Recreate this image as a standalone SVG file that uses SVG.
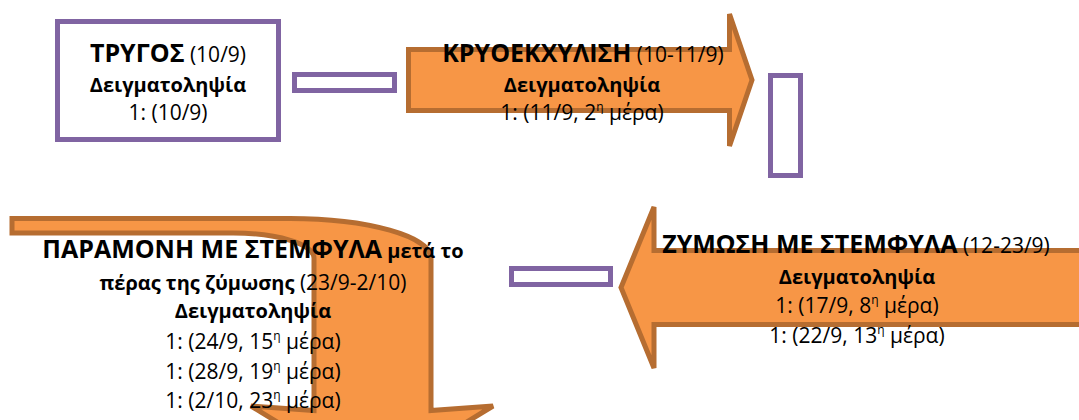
<svg xmlns="http://www.w3.org/2000/svg" width="1079" height="420" viewBox="0 0 1079 420">
<style>
.link{fill:#fff;stroke:#8064A2;stroke-width:5}
.box{fill:#fff;stroke:#8064A2;stroke-width:5}
.arr{fill:#F79646;stroke:#B66D31;stroke-width:5;stroke-linejoin:miter}
text{font-family:"Open Sans","Noto Sans",sans-serif;font-size:21px;fill:#000;text-anchor:middle}
.b{font-weight:bold;font-size:20px}
.big{font-weight:bold;font-size:25px}
.sup{font-size:12px}
</style>
<g id="connectors">
<rect class="link" x="294.5" y="74.5" width="100" height="16"/>
<rect class="link" x="770.5" y="75.5" width="30" height="100"/>
<rect class="link" x="511.5" y="268.5" width="99" height="16"/>
</g>
<g id="node-trygos">
<rect class="box" x="57.5" y="21.5" width="221" height="118"/>
<text x="168" y="62"><tspan class="big">ΤΡΥΓΟΣ</tspan> (10/9)</text>
<text x="168" y="92" class="b">Δειγματοληψία</text>
<text x="168" y="120">1: (10/9)</text>
</g>
<g id="node-kryoekxylisi">
<path class="arr" d="M408.5,49.5 H729.5 V14 L752,80 L729.5,146 V110.5 H408.5 Z"/>
<text x="583" y="62"><tspan class="big">ΚΡΥΟΕΚΧΥΛΙΣΗ</tspan> (10-11/9)</text>
<text x="582" y="92" class="b">Δειγματοληψία</text>
<text x="582" y="120">1: (11/9, 2<tspan class="sup" dy="-9">η</tspan><tspan dy="9"> μέρα)</tspan></text>
</g>
<g id="node-zymosi">
<path class="arr" d="M1085,250.5 H654 V207 L621,287.5 L654,368 V324.5 H1085 Z"/>
<text x="856" y="253"><tspan class="big">ΖΥΜΩΣΗ ΜΕ ΣΤΕΜΦΥΛΑ</tspan> (12-23/9)</text>
<text x="857" y="284" class="b">Δειγματοληψία</text>
<text x="857" y="313">1: (17/9, 8<tspan class="sup" dy="-9">η</tspan><tspan dy="9"> μέρα)</tspan></text>
<text x="857" y="343">1: (22/9, 13<tspan class="sup" dy="-9">η</tspan><tspan dy="9"> μέρα)</tspan></text>
</g>
<g id="node-paramoni">
<path class="arr" d="M12,218.5 H290 A141 40 0 0 1 431,258.5 V410.5 L493,406 L372,480 L251,406 L314,410.5 V258 A81 25 0 0 0 233,233 H12 Z"/>
<text x="253" y="258"><tspan class="big">ΠΑΡΑΜΟΝΗ ΜΕ ΣΤΕΜΦΥΛΑ</tspan><tspan class="b"> μετά το</tspan></text>
<text x="253" y="290"><tspan class="b">πέρας της ζύμωσης</tspan> (23/9-2/10)</text>
<text x="253" y="318" class="b">Δειγματοληψία</text>
<text x="253" y="349">1: (24/9, 15<tspan class="sup" dy="-9">η</tspan><tspan dy="9"> μέρα)</tspan></text>
<text x="253" y="379">1: (28/9, 19<tspan class="sup" dy="-9">η</tspan><tspan dy="9"> μέρα)</tspan></text>
<text x="253" y="408">1: (2/10, 23<tspan class="sup" dy="-9">η</tspan><tspan dy="9"> μέρα)</tspan></text>
</g>
</svg>
